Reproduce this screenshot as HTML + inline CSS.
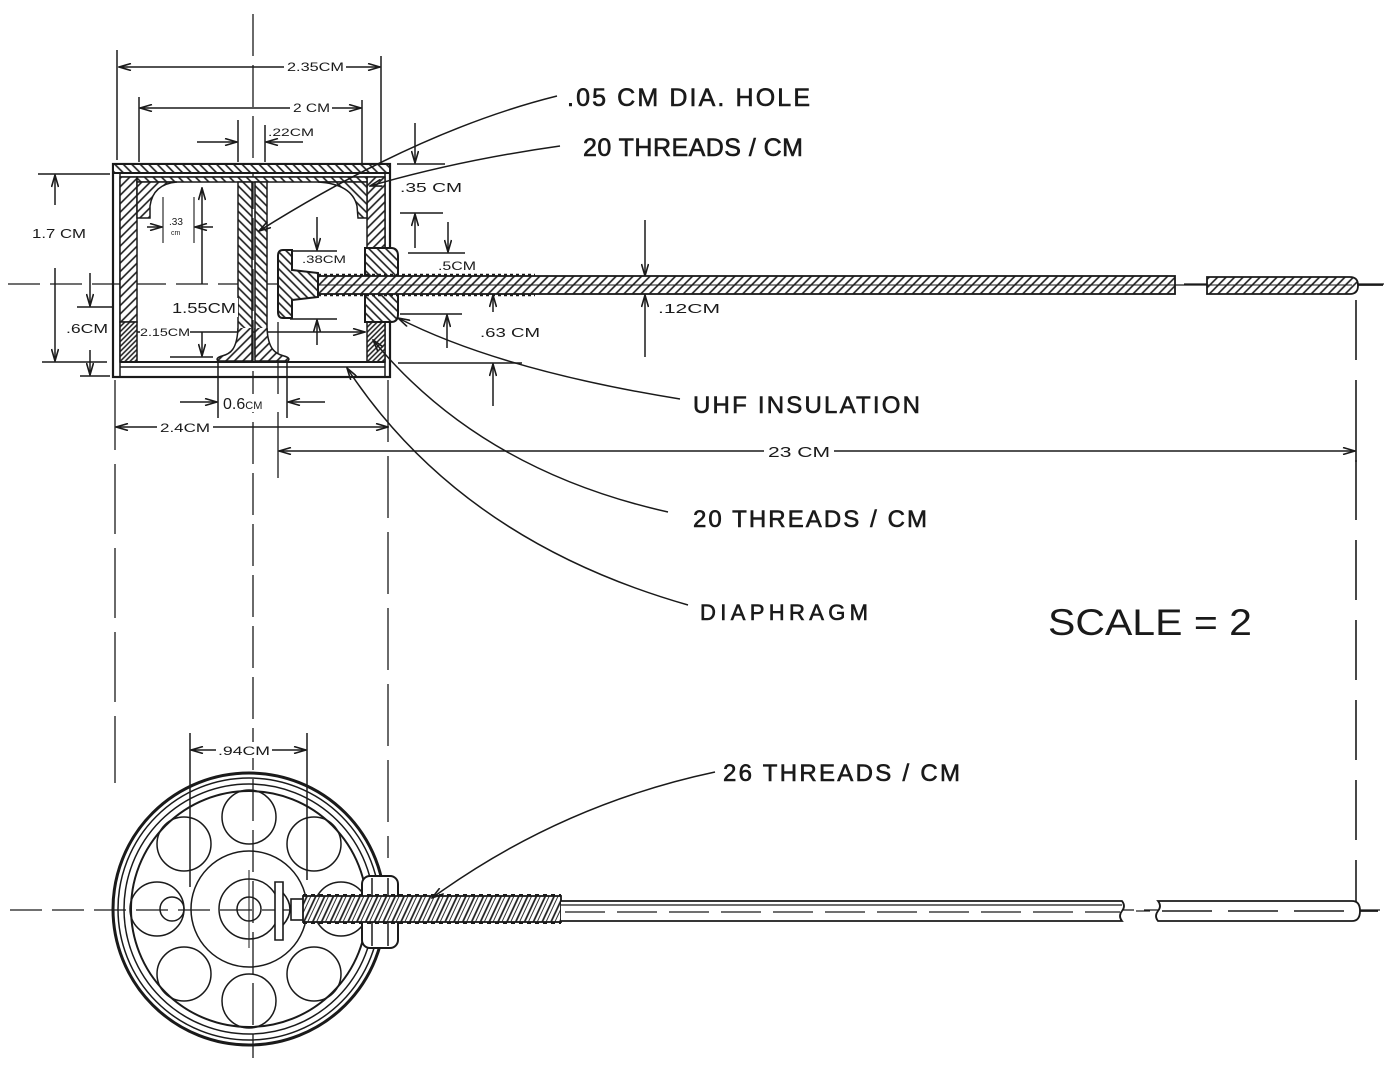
<!DOCTYPE html>
<html>
<head>
<meta charset="utf-8">
<style>
html,body{margin:0;padding:0;background:#fff;}
svg{display:block;}
text{font-family:"Liberation Sans",sans-serif;fill:#1a1a1a;}
.lbl{font-size:25px;stroke:#1a1a1a;stroke-width:0.6px;}
.d{font-size:12px;}
</style>
</head>
<body>
<svg width="1399" height="1080" viewBox="0 0 1399 1080" xmlns="http://www.w3.org/2000/svg">
<defs>
  <marker id="ae" viewBox="0 0 14 8" refX="13" refY="4" markerWidth="14" markerHeight="8" markerUnits="userSpaceOnUse" orient="auto-start-reverse">
    <path d="M1,0.5 L13,4 L1,7.5" fill="none" stroke="#1a1a1a" stroke-width="1.6"/>
  </marker>
  <pattern id="hA" patternUnits="userSpaceOnUse" width="6" height="6" patternTransform="rotate(45)">
    <rect width="6" height="6" fill="#fff"/><line x1="1" y1="0" x2="1" y2="6" stroke="#1a1a1a" stroke-width="1.6"/>
  </pattern>
  <pattern id="hB" patternUnits="userSpaceOnUse" width="6" height="6" patternTransform="rotate(-45)">
    <rect width="6" height="6" fill="#fff"/><line x1="1" y1="0" x2="1" y2="6" stroke="#1a1a1a" stroke-width="1.6"/>
  </pattern>
  <pattern id="hD" patternUnits="userSpaceOnUse" width="3.5" height="3.5" patternTransform="rotate(45)">
    <rect width="3.5" height="3.5" fill="#fff"/><line x1="1" y1="0" x2="1" y2="3.5" stroke="#1a1a1a" stroke-width="1.5"/>
  </pattern>
  <pattern id="thr" patternUnits="userSpaceOnUse" width="8" height="8" patternTransform="rotate(25)">
    <rect width="8" height="8" fill="#fff"/><line x1="1" y1="0" x2="1" y2="8" stroke="#1a1a1a" stroke-width="1.7"/><line x1="4.5" y1="0" x2="4.5" y2="8" stroke="#1a1a1a" stroke-width="0.9"/>
  </pattern>
</defs>

<g stroke="#1a1a1a" fill="none" stroke-width="1.5">
  <line x1="253" y1="14" x2="253" y2="1058" stroke-dasharray="42 9" stroke-width="1.3"/>
  <line x1="8" y1="284" x2="1385" y2="284" stroke-dasharray="32 10" stroke-width="1.3"/>
  <line x1="10" y1="910" x2="1380" y2="910" stroke-dasharray="32 10" stroke-width="1.3"/>

  <line x1="115" y1="380" x2="115" y2="783" stroke-dasharray="70 14" stroke-width="1.3"/>
  <line x1="388" y1="380" x2="388" y2="858" stroke-dasharray="62 14" stroke-width="1.3"/>
  <line x1="1356" y1="300" x2="1356" y2="908" stroke-dasharray="60 20" stroke-width="1.6"/>
  <line x1="278" y1="322" x2="278" y2="478" stroke-width="1.3"/>

  <line x1="117" y1="50" x2="117" y2="160"/>
  <line x1="381" y1="56" x2="381" y2="163"/>
  <line x1="119" y1="67" x2="380" y2="67" marker-start="url(#ae)" marker-end="url(#ae)"/>
  <line x1="139" y1="97" x2="139" y2="162"/>
  <line x1="362" y1="100" x2="362" y2="170"/>
  <line x1="140" y1="108" x2="361" y2="108" marker-start="url(#ae)" marker-end="url(#ae)"/>
  <line x1="238" y1="120" x2="238" y2="162"/>
  <line x1="265" y1="125" x2="265" y2="162"/>
  <line x1="197" y1="142" x2="237" y2="142" marker-end="url(#ae)"/>
  <line x1="303" y1="142" x2="266" y2="142" marker-end="url(#ae)"/>
  <line x1="38" y1="174" x2="110" y2="174"/>
  <line x1="42" y1="362" x2="107" y2="362"/>
  <line x1="55" y1="205" x2="55" y2="175" marker-end="url(#ae)"/>
  <line x1="55" y1="268" x2="55" y2="361" marker-end="url(#ae)"/>
  <line x1="77" y1="307" x2="113" y2="307"/>
  <line x1="80" y1="376" x2="110" y2="376"/>
  <line x1="90" y1="273" x2="90" y2="306" marker-end="url(#ae)"/>
  <line x1="90" y1="350" x2="90" y2="375" marker-end="url(#ae)"/>
  <line x1="202" y1="284" x2="202" y2="188" marker-end="url(#ae)"/>
  <line x1="202" y1="332" x2="202" y2="356" marker-end="url(#ae)"/>
  <line x1="170" y1="357" x2="213" y2="357"/>
  <line x1="163" y1="197" x2="163" y2="243" stroke-width="1.1"/>
  <line x1="194" y1="197" x2="194" y2="243" stroke-width="1.1"/>
  <line x1="147" y1="227" x2="162" y2="227" marker-end="url(#ae)"/>
  <line x1="213" y1="227" x2="195" y2="227" marker-end="url(#ae)"/>
  <line x1="140" y1="332" x2="123" y2="332" marker-end="url(#ae)"/>
  <line x1="190" y1="332" x2="365" y2="332" marker-end="url(#ae)"/>
  <line x1="293" y1="251" x2="337" y2="251"/>
  <line x1="290" y1="319" x2="337" y2="319"/>
  <line x1="317" y1="217" x2="317" y2="250" marker-end="url(#ae)"/>
  <line x1="317" y1="345" x2="317" y2="320" marker-end="url(#ae)"/>
  <line x1="397" y1="164" x2="445" y2="164"/>
  <line x1="400" y1="213" x2="443" y2="213"/>
  <line x1="415" y1="123" x2="415" y2="163" marker-end="url(#ae)"/>
  <line x1="415" y1="248" x2="415" y2="214" marker-end="url(#ae)"/>
  <line x1="408" y1="253" x2="465" y2="253"/>
  <line x1="448" y1="222" x2="448" y2="252" marker-end="url(#ae)"/>
  <line x1="400" y1="314" x2="462" y2="314"/>
  <line x1="398" y1="363" x2="522" y2="363"/>
  <line x1="447" y1="348" x2="447" y2="315" marker-end="url(#ae)"/>
  <line x1="493" y1="312" x2="493" y2="295" marker-end="url(#ae)"/>
  <line x1="493" y1="406" x2="493" y2="364" marker-end="url(#ae)"/>
  <line x1="645" y1="220" x2="645" y2="276" marker-end="url(#ae)"/>
  <line x1="645" y1="357" x2="645" y2="295" marker-end="url(#ae)"/>
  <line x1="218" y1="363" x2="218" y2="418"/>
  <line x1="287" y1="363" x2="287" y2="418"/>
  <line x1="180" y1="402" x2="217" y2="402" marker-end="url(#ae)"/>
  <line x1="325" y1="402" x2="288" y2="402" marker-end="url(#ae)"/>
  <line x1="116" y1="427" x2="388" y2="427" marker-start="url(#ae)" marker-end="url(#ae)"/>
  <line x1="279" y1="451" x2="1355" y2="451" marker-start="url(#ae)" marker-end="url(#ae)"/>
  <line x1="1356" y1="440" x2="1356" y2="462" stroke-width="1.6"/>
  <line x1="190" y1="733" x2="190" y2="887"/>
  <line x1="307" y1="733" x2="307" y2="880"/>
  <line x1="191" y1="750" x2="306" y2="750" marker-start="url(#ae)" marker-end="url(#ae)"/>

  <rect x="113" y="164" width="277" height="213" stroke-width="2.2"/>
  <rect x="113" y="164" width="277" height="9" fill="url(#hB)" stroke-width="2"/>
  <line x1="120" y1="173" x2="120" y2="377"/>
  <line x1="385" y1="173" x2="385" y2="377"/>
  <line x1="120" y1="177" x2="385" y2="177"/>
  <rect x="120" y="177" width="17" height="145" fill="url(#hA)"/>
  <rect x="120" y="322" width="17" height="40" fill="url(#hD)"/>
  <rect x="367" y="177" width="18" height="71" fill="url(#hA)"/>
  <rect x="367" y="322" width="18" height="40" fill="url(#hD)"/>
  <rect x="137" y="177" width="230" height="5" fill="url(#hB)"/>
  <path d="M137,182 H177 Q153,184 150,206 L150,218 H137 Z" fill="url(#hA)"/>
  <path d="M367,182 H318 Q352,184 357,206 L358,218 H367 Z" fill="url(#hB)"/>
  <rect x="238" y="182" width="14" height="172" fill="url(#hB)"/>
  <rect x="255" y="182" width="12" height="172" fill="url(#hB)"/>
  <path d="M238,328 C237,350 230,354 222,356 Q215,358 218,361 H252 V328" fill="url(#hA)"/>
  <path d="M267,328 C268,350 276,354 284,356 Q291,358 288,361 H255 V328" fill="url(#hA)"/>
  <line x1="120" y1="362" x2="385" y2="362" stroke-width="2"/>
  <line x1="120" y1="367" x2="385" y2="367"/>
  <path d="M365,248 H391 Q398,248 398,256 V314 Q398,322 391,322 H365 Z" fill="url(#hB)" stroke-width="2"/>
  <rect x="305" y="276" width="870" height="18" fill="url(#hA)" stroke-width="1.8"/>
  <line x1="318" y1="285" x2="1175" y2="285" stroke-width="1"/>
  <line x1="318" y1="275" x2="535" y2="275" stroke-dasharray="3 3" stroke-width="2.4"/>
  <line x1="318" y1="295" x2="535" y2="295" stroke-dasharray="3 3" stroke-width="2.4"/>
  <path d="M1207,277 H1350 Q1358,277 1358,285.5 Q1358,294 1350,294 H1207 Z" fill="url(#hA)" stroke-width="1.8"/>
  <line x1="1207" y1="285" x2="1352" y2="285" stroke-width="1"/>
  <line x1="1175" y1="285" x2="1207" y2="285" stroke-width="1.2"/>
  <line x1="1358" y1="285" x2="1383" y2="285" stroke-width="1.8"/>
  <path d="M283,250 H292 V270 L318,273 V297 L292,300 V318 H283 Q278,318 278,312 V256 Q278,250 283,250 Z" fill="url(#hB)" stroke-width="2"/>

  <circle cx="249" cy="909" r="136" stroke-width="3"/>
  <circle cx="249" cy="909" r="131" stroke-width="1.5"/>
  <circle cx="249" cy="909" r="125" stroke-width="1.5"/>
  <circle cx="249" cy="909" r="118" stroke-width="2"/>
  <circle cx="341" cy="909" r="27"/>
  <circle cx="314" cy="974" r="27"/>
  <circle cx="249" cy="1001" r="27"/>
  <circle cx="184" cy="974" r="27"/>
  <circle cx="157" cy="909" r="27"/>
  <circle cx="184" cy="844" r="27"/>
  <circle cx="249" cy="817" r="27"/>
  <circle cx="314" cy="844" r="27"/>
  <circle cx="172" cy="909" r="12"/>
  <circle cx="249" cy="909" r="58"/>
  <circle cx="249" cy="909" r="30"/>
  <circle cx="249" cy="909" r="12"/>
  <line x1="249" y1="870" x2="249" y2="948" stroke-width="1"/>
  <path d="M275,882 h8 v58 h-8 Z" fill="#fff" stroke-width="1.6"/>
  <path d="M283,893 Q297,909 283,925" stroke-width="1.6"/>
  <rect x="291" y="899" width="14" height="21" fill="#fff" stroke-width="1.6"/>
  <rect x="362" y="876" width="36" height="72" rx="8" fill="#fff" stroke-width="2"/>
  <line x1="372" y1="878" x2="372" y2="946"/>
  <line x1="388" y1="878" x2="388" y2="946"/>
  <rect x="303" y="896" width="258" height="26" fill="url(#thr)" stroke-width="1.8"/>
  <line x1="303" y1="895" x2="561" y2="895" stroke-dasharray="4 4" stroke-width="2"/>
  <line x1="303" y1="923" x2="561" y2="923" stroke-dasharray="4 4" stroke-width="2"/>
  <path d="M561,901 H1122 Q1126,906 1122,911 Q1118,916 1122,921 H561" fill="#fff" stroke-width="1.8"/>
  <line x1="561" y1="905" x2="1122" y2="905" stroke-width="1.2"/>
  <line x1="565" y1="912" x2="1120" y2="912" stroke-dasharray="40 12" stroke-width="1.2"/>
  <path d="M1158,901 H1352 Q1360,901 1360,911 Q1360,921 1352,921 H1158 Q1154,916 1158,911 Q1162,906 1158,901 Z" fill="#fff" stroke-width="1.8"/>
  <line x1="1162" y1="911" x2="1352" y2="911" stroke-dasharray="50 16" stroke-width="1.6"/>
  <line x1="1360" y1="911" x2="1378" y2="911" stroke-width="1.8"/>
  <line x1="1136" y1="911" x2="1150" y2="911" stroke-width="1.2"/>

  <path d="M557,96 Q420,130 259,231" marker-end="url(#ae)"/>
  <path d="M560,146 Q460,160 370,186" marker-end="url(#ae)"/>
  <path d="M680,399 Q500,370 398,318" marker-end="url(#ae)"/>
  <path d="M668,512 Q480,470 373,340" marker-end="url(#ae)"/>
  <path d="M688,605 Q460,540 347,368" marker-end="url(#ae)"/>
  <path d="M715,772 Q560,805 432,898" marker-end="url(#ae)"/>
</g>

<g fill="#fff" stroke="none">
  <rect x="284" y="58" width="62" height="16"/>
  <rect x="290" y="100" width="42" height="16"/>
  <rect x="30" y="224" width="60" height="18"/>
  <rect x="170" y="298" width="68" height="19"/>
  <rect x="140" y="325" width="50" height="14"/>
  <rect x="220" y="394" width="62" height="18"/>
  <rect x="157" y="420" width="56" height="15"/>
  <rect x="764" y="443" width="70" height="17"/>
  <rect x="216" y="742" width="56" height="16"/>
</g>
<g>
  <text x="287" y="71" class="d" textLength="57" lengthAdjust="spacingAndGlyphs">2.35CM</text>
  <text x="293" y="112" class="d" textLength="37" lengthAdjust="spacingAndGlyphs">2 CM</text>
  <text x="268" y="136" style="font-size:11px" textLength="46" lengthAdjust="spacingAndGlyphs">.22CM</text>
  <text x="32" y="238" style="font-size:13px" textLength="54" lengthAdjust="spacingAndGlyphs">1.7 CM</text>
  <text x="66" y="333" style="font-size:13px" textLength="42" lengthAdjust="spacingAndGlyphs">.6CM</text>
  <text x="172" y="313" style="font-size:15px" textLength="64" lengthAdjust="spacingAndGlyphs">1.55CM</text>
  <text x="169" y="225" style="font-size:10px">.33</text>
  <text x="171" y="235" style="font-size:7px">cm</text>
  <text x="140" y="336" style="font-size:11px" textLength="50" lengthAdjust="spacingAndGlyphs">2.15CM</text>
  <text x="302" y="263" style="font-size:11px" textLength="44" lengthAdjust="spacingAndGlyphs">.38CM</text>
  <text x="400" y="192" style="font-size:13px" textLength="62" lengthAdjust="spacingAndGlyphs">.35 CM</text>
  <text x="438" y="270" style="font-size:12px" textLength="38" lengthAdjust="spacingAndGlyphs">.5CM</text>
  <text x="480" y="337" style="font-size:13px" textLength="60" lengthAdjust="spacingAndGlyphs">.63 CM</text>
  <text x="658" y="313" style="font-size:13px" textLength="62" lengthAdjust="spacingAndGlyphs">.12CM</text>
  <text x="223" y="409" style="font-size:16px">0.6<tspan style="font-size:11px">CM</tspan></text>
  <text x="160" y="432" class="d" textLength="50" lengthAdjust="spacingAndGlyphs">2.4CM</text>
  <text x="768" y="457" style="font-size:15px" textLength="62" lengthAdjust="spacingAndGlyphs">23 CM</text>
  <text x="218" y="755" class="d" textLength="52" lengthAdjust="spacingAndGlyphs">.94CM</text>

  <text x="567" y="106" class="lbl" textLength="243" lengthAdjust="spacing">.05 CM DIA. HOLE</text>
  <text x="583" y="156" class="lbl" textLength="220" lengthAdjust="spacing">20 THREADS / CM</text>
  <text x="693" y="413" class="lbl" style="font-size:24px" textLength="227" lengthAdjust="spacing">UHF INSULATION</text>
  <text x="693" y="527" class="lbl" style="font-size:24px" textLength="234" lengthAdjust="spacing">20 THREADS / CM</text>
  <text x="700" y="620" class="lbl" style="font-size:22px" textLength="168" lengthAdjust="spacing">DIAPHRAGM</text>
  <text x="1048" y="635" style="font-size:37px" textLength="204" lengthAdjust="spacingAndGlyphs">SCALE = 2</text>
  <text x="723" y="781" class="lbl" style="font-size:24px" textLength="237" lengthAdjust="spacing">26 THREADS / CM</text>
</g>
</svg>
</body>
</html>
